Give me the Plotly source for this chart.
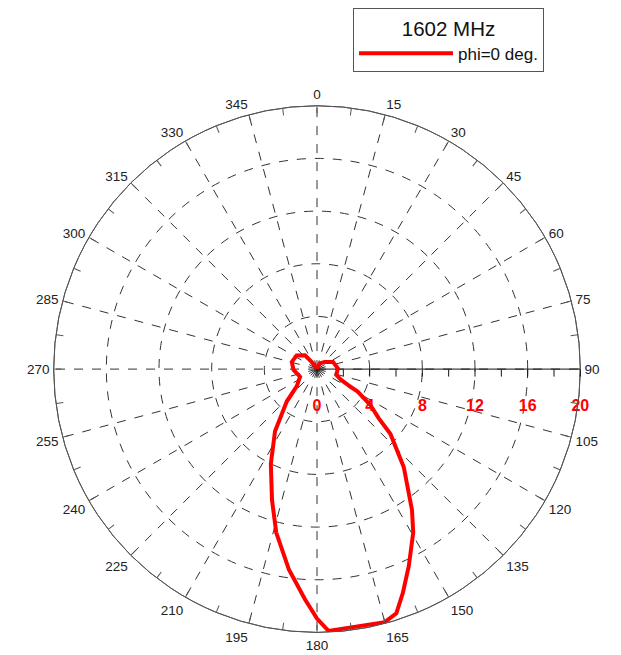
import plotly.graph_objects as go

# Pattern data (theta in degrees, clockwise from top; r in radial units)
theta_deg = [0, 26, 47, 66, 88, 107, 114, 117, 119, 124, 128.5, 131.5, 138.5, 146,
             149.5, 155, 159, 162, 165, 177.5, 180, 183, 188, 194, 199, 206, 214,
             223, 230, 246, 268, 286, 304, 319, 323, 360]
r_vals = [0.05, 0.48, 0.8, 1.33, 1.59, 1.53, 2.01, 2.63, 3.53, 4.9, 5.98, 7.45, 9.95,
          12.9, 14.4, 16.5, 18.2, 19.5, 19.9, 19.9, 18.95, 17.5, 15.36, 12.8, 10.5,
          8.0, 5.7, 3.37, 2.0, 1.41, 1.78, 1.99, 1.86, 1.39, 0.68, 0.05]

angle_ticks = list(range(0, 360, 15))
angle_minor = [i * 7.5 for i in range(48)]
radial_ticks = [0, 4, 8, 12, 16, 20]
radial_minor = list(range(0, 21, 2))
series_name = "phi=0 deg."
legend_title = "1602 MHz"

fig = go.Figure()
fig.add_trace(go.Scatterpolar(r=[], theta=[], subplot="polar", showlegend=False,
                              hoverinfo="skip"))
fig.add_trace(go.Scatterpolar(
    r=r_vals, theta=theta_deg, mode="lines", name=series_name, subplot="polar2",
    line=dict(color="#ff0000", width=4),
))

dom_x = [42 / 621, 576 / 621]
dom_y = [31 / 655, 565 / 655]
font_fam = "Liberation Sans, Arial, sans-serif"

fig.update_layout(
    width=621, height=655,
    margin=dict(l=0, r=0, t=0, b=0),
    paper_bgcolor="white",
    font=dict(family=font_fam, color="#222222", size=13),
    polar=dict(
        domain=dict(x=dom_x, y=dom_y),
        bgcolor="white",
        angularaxis=dict(
            rotation=90, direction="clockwise",
            tickmode="array", tickvals=angle_ticks, ticktext=[str(a) for a in angle_ticks],
            ticks="outside", ticklen=1, tickcolor="rgba(0,0,0,0)",
            showline=True, linecolor="#555555", linewidth=1,
            showgrid=True, gridcolor="#333333", gridwidth=0.8, griddash="dash",
            tickfont=dict(size=13.5, color="#222222"),
        ),
        radialaxis=dict(
            range=[0, 20], angle=0, side="clockwise",
            tickmode="array", tickvals=radial_ticks, ticktext=[str(v) for v in radial_ticks],
            ticks="outside", ticklen=22, tickcolor="rgba(0,0,0,0)",
            showline=True, linecolor="#111111", linewidth=1,
            showgrid=True, gridcolor="#333333", gridwidth=0.8, griddash="dash",
            tickfont=dict(size=16, color="#ff0000", family=font_fam, weight="bold"),
        ),
    ),
    polar2=dict(
        domain=dict(x=dom_x, y=dom_y),
        bgcolor="rgba(0,0,0,0)",
        angularaxis=dict(
            rotation=90, direction="clockwise",
            tickmode="array", tickvals=angle_minor, showticklabels=False,
            ticks="inside", ticklen=7, tickcolor="#555555", tickwidth=1,
            showline=True, linecolor="#555555", linewidth=1, showgrid=False,
        ),
        radialaxis=dict(
            range=[0, 20], angle=0, side="clockwise",
            tickmode="array", tickvals=radial_minor, showticklabels=False,
            ticks="outside", ticklen=7, tickcolor="#111111", tickwidth=1,
            showline=False, showgrid=False,
        ),
    ),
    showlegend=True,
    legend=dict(
        x=345 / 621, y=1 + 9 / 655, xanchor="left", yanchor="top",
        bgcolor="white", bordercolor="#555555", borderwidth=1,
        title=dict(text=legend_title, side="top center", font=dict(size=20.5, color="#111111")),
        font=dict(size=17, color="#111111"),
        itemwidth=94,
    ),
)

fig.write_html("out.html")
